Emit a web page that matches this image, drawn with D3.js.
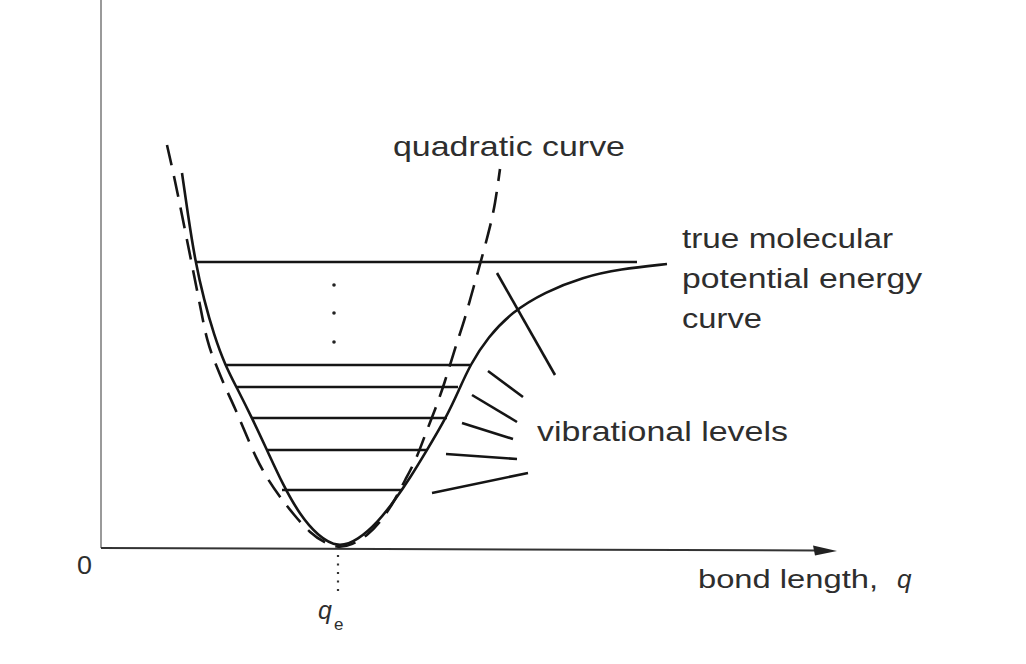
<!DOCTYPE html>
<html>
<head>
<meta charset="utf-8">
<script src="https://cdn.jsdelivr.net/npm/d3@7"></script>
<style>
  html, body { margin: 0; padding: 0; background: #fff; }
  svg { display: block; }
  text { font-family: "Liberation Sans", Arial, Helvetica, sans-serif; fill: #2e2e2e; }
</style>
</head>
<body>
<svg id="chart" width="1026" height="664"></svg>
<script>
// ---- data (arbitrary units: bond length q, energy E) ----
const qE = 2.37;
// true molecular (Morse-like) potential energy curve
const morseQ = [0.81,0.87,0.94,1.03,1.13,1.24,1.37,1.51,1.66,1.82,1.99,2.17,2.37,
                2.57,2.77,2.94,3.09,3.26,3.45,3.58,3.69,3.87,4.11,4.44,4.82,5.19,5.66];
const morseE = [3.75,3.33,2.88,2.48,2.13,1.83,1.58,1.30,0.98,0.63,0.33,0.12,0.00,
                0.08,0.26,0.48,0.70,0.98,1.30,1.58,1.83,2.11,2.36,2.56,2.71,2.79,2.84];
// quadratic (harmonic) approximation
const quadQ = [0.66,0.71,0.77,0.84,0.91,0.99,1.06,1.15,1.24,1.34,1.44,1.55,1.67,1.79,1.93,2.09,2.24,2.37,
               2.51,2.67,2.81,2.94,3.04,3.15,3.24,3.34,3.43,3.55,3.62,3.69,3.76,3.83,3.89,3.94,3.99];
const quadE = [4.03,3.81,3.53,3.18,2.83,2.43,2.06,1.83,1.61,1.40,1.16,0.90,0.68,0.51,0.33,0.15,0.05,0.00,
               0.03,0.13,0.28,0.48,0.68,0.88,1.13,1.38,1.63,2.03,2.23,2.48,2.73,2.98,3.21,3.43,3.79];
// vibrational levels
const levelE     = [0.58, 0.98, 1.30, 1.61, 1.83, 2.86];
const levelLeft  = [1.81, 1.66, 1.51, 1.36, 1.24, 0.94];
const levelRight = [3.01, 3.26, 3.46, 3.57, 3.69, 5.36];
// ellipsis dots between levels
const dotQ = [2.33, 2.33, 2.33];
const dotE = [2.63, 2.35, 2.06];
// pointer lines from "vibrational levels" label
const ptrQ1 = [3.96, 3.87, 3.71, 3.61, 3.45, 3.31];
const ptrE1 = [2.75, 1.77, 1.53, 1.25, 0.94, 0.55];
const ptrQ2 = [4.54, 4.22, 4.16, 4.12, 4.16, 4.27];
const ptrE2 = [1.73, 1.51, 1.26, 1.09, 0.89, 0.75];

// ---- scales ----
const svg = d3.select("#chart");
const x = d3.scaleLinear().domain([0, 7.36]).range([101, 837]);
const y = d3.scaleLinear().domain([0, 5.48]).range([548, 0]);

const ink = "#151515";
const line = d3.line().x(d => x(d[0])).y(d => y(d[1])).curve(d3.curveBasis);

// axes
svg.append("line")
  .attr("x1", x(0)).attr("y1", y(0)).attr("x2", x(0)).attr("y2", y(5.48))
  .attr("stroke", "#9a9a9a").attr("stroke-width", 2);
svg.append("line")
  .attr("x1", x(0)).attr("y1", y(0)).attr("x2", x(7.16)).attr("y2", y(0) + 2.5)
  .attr("stroke", "#333").attr("stroke-width", 2);
svg.append("path")
  .attr("d", d3.line()([[x(7.36), y(0) + 3], [x(7.12), y(0) - 2.5], [x(7.14), y(0) + 7.5]]) + "Z")
  .attr("fill", "#222");

// q_e dotted guide
svg.append("line")
  .attr("x1", x(qE)).attr("y1", y(0) + 7).attr("x2", x(qE)).attr("y2", y(0) + 46)
  .attr("stroke", "#333").attr("stroke-width", 2.2)
  .attr("stroke-dasharray", "2,6.5");

// quadratic curve (dashed)
svg.append("path")
  .datum(quadQ.map((q, i) => [q, quadE[i]]))
  .attr("d", line)
  .attr("fill", "none").attr("stroke", ink).attr("stroke-width", 2.6)
  .attr("stroke-dasharray", "21,11");

// true curve
svg.append("path")
  .datum(morseQ.map((q, i) => [q, morseE[i]]))
  .attr("d", line)
  .attr("fill", "none").attr("stroke", ink).attr("stroke-width", 2.6);

// levels
svg.selectAll("line.level").data(levelE).enter().append("line")
  .attr("class", "level")
  .attr("x1", (d, i) => x(levelLeft[i])).attr("x2", (d, i) => x(levelRight[i]))
  .attr("y1", d => y(d)).attr("y2", d => y(d))
  .attr("stroke", ink).attr("stroke-width", 2.6);

// dots
svg.selectAll("circle.dot").data(dotQ).enter().append("circle")
  .attr("cx", d => x(d)).attr("cy", (d, i) => y(dotE[i])).attr("r", 1.8).attr("fill", "#222");

// pointer lines
svg.selectAll("line.ptr").data(ptrQ1).enter().append("line")
  .attr("x1", d => x(d)).attr("y1", (d, i) => y(ptrE1[i]))
  .attr("x2", (d, i) => x(ptrQ2[i])).attr("y2", (d, i) => y(ptrE2[i]))
  .attr("stroke", ink).attr("stroke-width", 2.6);

// labels
function label(txt, px, py, size, len, italic) {
  const t = svg.append("text").attr("x", px).attr("y", py)
    .attr("font-size", size).text(txt);
  if (len) t.attr("textLength", len).attr("lengthAdjust", "spacingAndGlyphs");
  if (italic) t.attr("font-style", "italic");
  return t;
}
label("quadratic curve", 393, 156, 28, 232);
label("true molecular", 682, 248, 27, 211);
label("potential energy", 682, 288, 27, 240);
label("curve", 682, 328, 27, 80);
label("vibrational levels", 537, 441, 28, 251);
label("bond length,", 698, 588, 26, 180);
label("q", 897, 588, 26, null, true);
label("0", 77, 574, 26, 15);
label("q", 318, 619, 25, null, true);
label("e", 334, 630, 17);
</script>
</body>
</html>
